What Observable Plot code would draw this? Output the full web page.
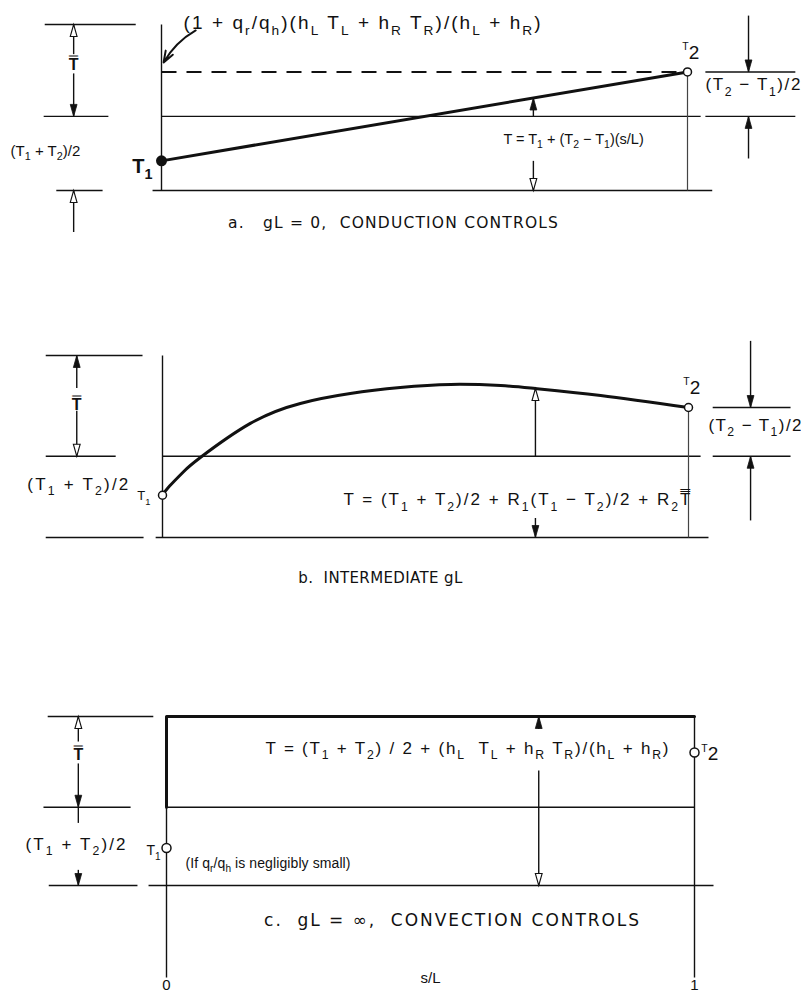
<!DOCTYPE html>
<html>
<head>
<meta charset="utf-8">
<script src="https://cdn.jsdelivr.net/npm/d3@7"></script>
<script src="https://cdn.jsdelivr.net/npm/@observablehq/plot@0.6"></script>
<style>
  body { margin: 0; background: #fff; }
  #chart { width: 801px; }
  #chart svg { display: block; }
  #chart text { white-space: pre; }
</style>
</head>
<body>
<div id="chart"></div>
<script>
// Temperature profiles along the wall, s/L from 0 to 1 (arbitrary temperature units).

// a. gL = 0 — conduction controls: straight line between the end temperatures
const aT1 = 20, aT2 = 80, aMean = 50, aDash = 80, aBar = 112;
const aLine = [{s: 0, T: aT1}, {s: 1, T: aT2}];

// b. intermediate gL — curved profile
const bT1 = 26, bT2 = 80, bMean = 50, bBar = 112;
const bCurve = [
  {s: 0, T: 26}, {s: 0.013, T: 31.5}, {s: 0.04, T: 40.5}, {s: 0.072, T: 49.2},
  {s: 0.167, T: 70.2}, {s: 0.262, T: 82.5}, {s: 0.357, T: 88.6}, {s: 0.452, T: 92.3},
  {s: 0.548, T: 94.2}, {s: 0.643, T: 93.5}, {s: 0.709, T: 91.7}, {s: 0.833, T: 87.4},
  {s: 1, T: 80}
];

// c. gL = ∞ — convection controls: flat profile with jumps at the ends
const cT1 = 24, cT2 = 85, cMean = 50, cBar = 108;
const cProfile = [{s: 0, T: cMean}, {s: 0, T: cBar}, {s: 1, T: cBar}];

// Texts ("_x" lowers x as a subscript, "^x" raises a small x)
const captions = ["a.   gL = 0,  CONDUCTION CONTROLS", "b.  INTERMEDIATE gL", "c.  gL = ∞,  CONVECTION CONTROLS"];
const meanLabel = "(T_1 + T_2)/2";
const halfDiffLabel = "(T_2 − T_1)/2";
const barLabel = "T\u033F";
const t1Label = "T_1";
const t2Label = "^T2";
const aTopFormula = "(1 + q_r/q_h)(h_L T_L + h_R T_R)/(h_L + h_R)";
const aFormula = "T = T_1 + (T_2 − T_1)(s/L)";
const bFormula = "T = (T_1 + T_2)/2 + R_1(T_1 − T_2)/2 + R_2" + "T\u033F";
const cFormula = "T = (T_1 + T_2) / 2 + (h_L  T_L + h_R T_R)/(h_L + h_R)";
const cNote = "(If q_r/q_h is negligibly small)";
const xTickLabels = ["0", "1"];
const xLabel = "s/L";

const W = 801;
const INK = "#111";
const formulaFont = "Liberation Sans, Arial, sans-serif";
const captionFont = "DejaVu Sans, sans-serif";

// narrow arrowhead with its tip at the anchor point, pointing up
const head = {
  draw(context) {
    context.moveTo(0, 0);
    context.lineTo(-3.4, 12);
    context.lineTo(3.4, 12);
    context.closePath();
  }
};

function segs(list, opts = {}) {
  return Plot.link(list, {x1: "x1", y1: "y1", x2: "x2", y2: "y2", stroke: INK, strokeWidth: 1.4, strokeLinecap: "butt", ...opts});
}
function vseg(s, y1, y2) { return {x1: s, x2: s, y1, y2}; }
function hseg(y, x1, x2) { return {x1, x2, y1: y, y2: y}; }

function heads(list) {
  const rot = d => d.down ? 180 : 0;
  return [
    Plot.dot(list.filter(d => !d.open), {x: "s", y: "T", symbol: head, rotate: rot, fill: INK, stroke: INK, strokeWidth: 0.8}),
    Plot.dot(list.filter(d => d.open), {x: "s", y: "T", symbol: head, rotate: rot, fill: "white", stroke: INK, strokeWidth: 1.1})
  ];
}

// set widths of the long labels (px), keyed by label text, filled per panel
let fits = new Map();
function labels(list, {anchor = "start", size = 16, family = formulaFont, fit = 0, ...rest} = {}) {
  if (fit) for (const d of list) fits.set(d.t, fit);
  return Plot.text(list, {x: "s", y: "T", text: "t", textAnchor: anchor, lineAnchor: "bottom",
    fontSize: size, fontFamily: family, fill: INK, ...rest});
}

function frame(opts, marks) {
  return Plot.plot({
    width: W,
    ...opts,
    x: {domain: [0, 1], axis: null},
    y: {domain: [0, opts.yMax], axis: null},
    style: {background: "transparent", overflow: "visible"},
    marks
  });
}

// "_x" becomes a lowered subscript, "^x" a small raised letter; fitted labels get their width
function richText(svg, widths) {
  d3.select(svg).selectAll("text").each(function () {
    const raw = this.textContent;
    const w = widths.get(raw);
    if (w) {
      this.setAttribute("textLength", w);
      this.setAttribute("lengthAdjust", "spacing");
    }
    if (!/[_^]/.test(raw)) return;
    const fs = parseFloat(getComputedStyle(this).fontSize) || 16;
    const parts = [];
    for (let i = 0; i < raw.length; i++) {
      const c = raw[i];
      if ((c === "_" || c === "^") && i + 1 < raw.length) { parts.push({t: raw[i + 1], mode: c}); i++; }
      else if (parts.length && parts[parts.length - 1].mode === "") parts[parts.length - 1].t += c;
      else parts.push({t: c, mode: ""});
    }
    const el = d3.select(this);
    el.text(null);
    let shift = 0;
    for (const p of parts) {
      const ts = el.append("tspan").text(p.t);
      const target = p.mode === "_" ? fs * 0.32 : p.mode === "^" ? -fs * 0.45 : 0;
      if (p.mode === "_") ts.attr("font-size", fs * 0.72);
      if (p.mode === "^") ts.attr("font-size", fs * 0.55);
      if (target !== shift) { ts.attr("dy", target - shift); shift = target; }
    }
  });
}

// ---------- a ----------
function panelA() {
  const at = s => aT1 + (aT2 - aT1) * s;
  return frame({height: 300, marginTop: 24, marginBottom: 110, marginLeft: 161, marginRight: 114, yMax: aBar}, [
    segs([
      hseg(0, -0.017, 1.047), hseg(aMean, 0, 1.025), vseg(0, 0, aBar),
      hseg(aBar, -0.222, -0.049), hseg(aMean, -0.224, -0.101), hseg(0, -0.2, -0.112),
      vseg(-0.167, aBar, 92), vseg(-0.167, 79, aMean), vseg(-0.167, 0, -28),
      hseg(aT2, 1.034, 1.205), hseg(aMean, 1.034, 1.205),
      vseg(1.116, 118, aT2), vseg(1.116, 21.6, aMean),
      vseg(0.707, aMean, at(0.707)), vseg(0.707, 20, 0)
    ]),
    segs([vseg(1, 0, aT2)], {stroke: "#444", strokeWidth: 1.2}),
    segs([hseg(aDash, 0, 0.992)], {strokeWidth: 2, strokeDasharray: "15,10"}),
    Plot.line(aLine, {x: "s", y: "T", stroke: INK, strokeWidth: 3}),
    Plot.arrow([{x1: 0.065, y1: 108, x2: 0.004, y2: 86.4}], {x1: "x1", y1: "y1", x2: "x2", y2: "y2",
      bend: -15, headLength: 9, headAngle: 40, stroke: INK, strokeWidth: 2}),
    heads([
      {s: -0.167, T: aBar, open: true}, {s: -0.167, T: aMean, down: true}, {s: -0.167, T: 0, open: true},
      {s: 1.116, T: aT2, down: true}, {s: 1.116, T: aMean},
      {s: 0.707, T: at(0.707)}, {s: 0.707, T: 0, down: true, open: true}
    ]),
    Plot.dot([aLine[0]], {x: "s", y: "T", r: 5.5, fill: INK}),
    Plot.dot([aLine[1]], {x: "s", y: "T", r: 4, fill: "white", stroke: INK, strokeWidth: 1.5}),
    labels([{s: 0.042, T: 109.3, t: aTopFormula}], {size: 19, fit: 357}),
    labels([{s: 0.65, T: 31.7, t: aFormula}], {size: 14.5}),
    labels([{s: -0.287, T: 23.6, t: meanLabel}], {size: 15}),
    labels([{s: 1.034, T: 67.5, t: halfDiffLabel}], {size: 17, fit: 95}),
    labels([{s: -0.167, T: 81, t: barLabel}], {anchor: "middle", size: 16, fontWeight: "bold"}),
    labels([{s: -0.017, T: 12, t: t1Label}], {anchor: "end", size: 20, fontWeight: "bold"}),
    labels([{s: 0.99, T: 89, t: t2Label}], {size: 19}),
    labels([{s: 0.44, T: -25.6, t: captions[0]}], {anchor: "middle", size: 15.5, family: captionFont, fit: 330})
  ]);
}

// ---------- b ----------
function panelB() {
  const tip = bCurve[10];
  return frame({height: 360, marginTop: 55, marginBottom: 123, marginLeft: 162, marginRight: 113, yMax: bBar}, [
    segs([
      hseg(0, -0.013, 1.038), hseg(bMean, 0, 1.023), vseg(0, 0, bBar),
      hseg(bBar, -0.222, -0.038), hseg(bMean, -0.222, -0.089), hseg(0, -0.222, -0.036),
      vseg(-0.163, bBar, 92), vseg(-0.163, 78, bMean),
      hseg(bT2, 1.046, 1.194), hseg(bMean, 1.046, 1.194),
      vseg(1.118, 121, bT2), vseg(1.118, 10.5, bMean),
      vseg(tip.s, bMean, tip.T), vseg(tip.s, 12, 0)
    ]),
    segs([vseg(1, 0, bT2)], {stroke: "#444", strokeWidth: 1.2}),
    Plot.line(bCurve, {x: "s", y: "T", curve: "natural", stroke: INK, strokeWidth: 3}),
    heads([
      {s: -0.163, T: bBar}, {s: -0.163, T: bMean, down: true, open: true},
      {s: 1.118, T: bT2, down: true}, {s: 1.118, T: bMean},
      {s: tip.s, T: tip.T, open: true}, {s: tip.s, T: 0, down: true}
    ]),
    Plot.dot([bCurve[0], bCurve[bCurve.length - 1]], {x: "s", y: "T", r: 4, fill: "white", stroke: INK, strokeWidth: 1.5}),
    labels([{s: 0.344, T: 19.7, t: bFormula}], {size: 17, fit: 347}),
    labels([{s: -0.257, T: 29.5, t: meanLabel}], {size: 17, fit: 101}),
    labels([{s: 1.038, T: 65.8, t: halfDiffLabel}], {size: 17, fit: 93}),
    labels([{s: -0.163, T: 78.5, t: barLabel}], {anchor: "middle", size: 16, fontWeight: "bold"}),
    labels([{s: -0.048, T: 22.8, t: t1Label}], {size: 13}),
    labels([{s: 0.99, T: 88.6, t: t2Label}], {size: 19}),
    labels([{s: 0.414, T: -28.3, t: captions[1]}], {anchor: "middle", size: 15, family: captionFont, fit: 164})
  ]);
}

// ---------- c ----------
function panelC() {
  const sArrow = 0.705;
  return frame({height: 336, marginTop: 56, marginBottom: 111, marginLeft: 166, marginRight: 107, yMax: cBar}, [
    segs([
      hseg(0, -0.034, 1.036), hseg(cMean, 0, 1), vseg(0, 0, cMean), vseg(1, 0, cBar),
      vseg(0, 0, -58.8), vseg(1, 0, -58.8),
      hseg(cBar, -0.225, -0.025), hseg(cMean, -0.233, -0.068), hseg(0, -0.223, -0.055),
      vseg(-0.167, cBar, 92), vseg(-0.167, 78, cMean), vseg(-0.167, cMean, 40), vseg(-0.167, 10, 0),
      vseg(sArrow, cBar, 100), vseg(sArrow, 73.5, 0)
    ]),
    Plot.line(cProfile, {x: "s", y: "T", stroke: INK, strokeWidth: 3}),
    heads([
      {s: -0.167, T: cBar, open: true}, {s: -0.167, T: cMean, down: true}, {s: -0.167, T: 0, down: true},
      {s: sArrow, T: cBar}, {s: sArrow, T: 0, down: true, open: true}
    ]),
    Plot.dot([{s: 0, T: cT1}, {s: 1, T: cT2}], {x: "s", y: "T", r: 4.5, fill: "white", stroke: INK, strokeWidth: 1.5}),
    labels([{s: 0.1875, T: 84.3, t: cFormula}], {size: 17, fit: 403}),
    labels([{s: 0.036, T: 11.5, t: cNote}], {size: 14, fit: 165}),
    labels([{s: -0.267, T: 23, t: meanLabel}], {size: 17, fit: 100}),
    labels([{s: -0.167, T: 80, t: barLabel}], {anchor: "middle", size: 16, fontWeight: "bold"}),
    labels([{s: -0.011, T: 19.2, t: t1Label}], {anchor: "end", size: 14}),
    labels([{s: 1.013, T: 80, t: t2Label}], {size: 19}),
    labels([{s: 0.54, T: -26.2, t: captions[2]}], {anchor: "middle", size: 17, family: captionFont, fit: 375}),
    labels([{s: 0, T: -67, t: xTickLabels[0]}, {s: 1, T: -67, t: xTickLabels[1]}], {anchor: "middle", size: 15}),
    labels([{s: 0.5, T: -62, t: xLabel}], {anchor: "middle", size: 15})
  ]);
}

const chart = document.getElementById("chart");
for (const make of [panelA, panelB, panelC]) {
  fits = new Map();
  const svg = make();
  chart.appendChild(svg);
  richText(svg, fits);
}
</script>
</body>
</html>
